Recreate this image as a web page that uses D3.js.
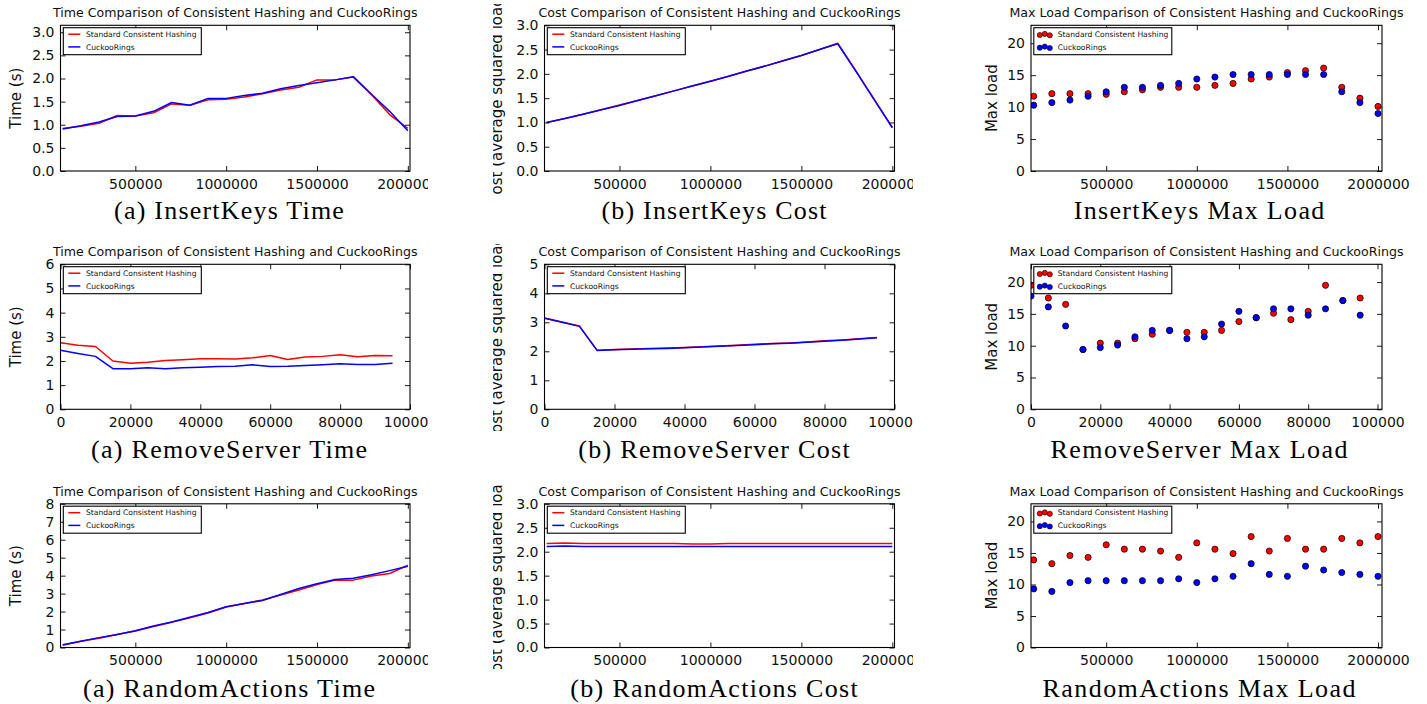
<!DOCTYPE html>
<html>
<head>
<meta charset="utf-8">
<script src="https://cdn.jsdelivr.net/npm/d3@7"></script>
<style>
  html, body { margin: 0; padding: 0; background: #ffffff; }
  svg { display: block; }
</style>
</head>
<body>
<svg id="chart" width="1427" height="704"></svg>
<script>
// ---------------- DATA ----------------
const keysX = [100000, 200000, 300000, 400000, 500000, 600000, 700000, 800000, 900000, 1000000,
               1100000, 1200000, 1300000, 1400000, 1500000, 1600000, 1700000, 1800000, 1900000, 2000000];
const serversX = [0, 5000, 10000, 15000, 20000, 25000, 30000, 35000, 40000, 45000,
                  50000, 55000, 60000, 65000, 70000, 75000, 80000, 85000, 90000, 95000];

// InsertKeys
const insertTimeCH = [0.92, 0.97, 1.03, 1.20, 1.19, 1.26, 1.45, 1.42, 1.54, 1.55, 1.60, 1.67, 1.75, 1.81, 1.97, 1.97, 2.03, 1.65, 1.22, 0.92];
const insertTimeCR = [0.91, 0.98, 1.06, 1.18, 1.19, 1.29, 1.48, 1.42, 1.57, 1.57, 1.63, 1.68, 1.78, 1.85, 1.91, 1.97, 2.04, 1.66, 1.29, 0.87];
const insertCostCH = [1.00, 1.08, 1.17, 1.26, 1.36, 1.45, 1.55, 1.65, 1.75, 1.85, 1.95, 2.06, 2.16, 2.27, 2.38, 2.50, 2.63, 2.06, 1.48, 0.90];
const insertCostCR = [1.00, 1.08, 1.17, 1.26, 1.35, 1.45, 1.55, 1.65, 1.75, 1.85, 1.95, 2.06, 2.16, 2.27, 2.38, 2.50, 2.62, 2.05, 1.47, 0.89];
const insertLoadCH = [11.7, 12.1, 12.1, 12.1, 12.0, 12.4, 12.7, 13.1, 13.1, 13.1, 13.4, 13.7, 14.4, 14.7, 15.4, 15.7, 16.1, 13.1, 11.4, 10.1];
const insertLoadCR = [10.3, 10.7, 11.1, 11.7, 12.4, 13.1, 13.1, 13.4, 13.7, 14.4, 14.7, 15.1, 15.1, 15.1, 15.1, 15.1, 15.1, 12.4, 10.7, 9.0];

// RemoveServer
const removeTimeCH = [2.75, 2.65, 2.60, 2.00, 1.91, 1.95, 2.02, 2.05, 2.09, 2.09, 2.08, 2.13, 2.23, 2.06, 2.16, 2.19, 2.26, 2.17, 2.23, 2.22];
const removeTimeCR = [2.44, 2.31, 2.19, 1.68, 1.68, 1.72, 1.68, 1.72, 1.74, 1.77, 1.78, 1.84, 1.77, 1.78, 1.81, 1.84, 1.88, 1.85, 1.85, 1.91];
const removeCostCH = [3.15, 3.01, 2.87, 2.04, 2.06, 2.08, 2.10, 2.11, 2.13, 2.16, 2.18, 2.21, 2.24, 2.27, 2.29, 2.32, 2.36, 2.39, 2.43, 2.48];
const removeCostCR = [3.14, 3.00, 2.86, 2.03, 2.05, 2.07, 2.09, 2.10, 2.12, 2.15, 2.17, 2.20, 2.23, 2.26, 2.28, 2.31, 2.35, 2.38, 2.42, 2.47];
const removeLoadCH = [19.5, 17.5, 16.5, 9.4, 10.4, 10.4, 11.1, 11.8, 12.4, 12.1, 12.1, 12.4, 13.8, 14.4, 15.1, 14.1, 15.4, 19.5, 17.1, 17.5];
const removeLoadCR = [17.8, 16.1, 13.1, 9.4, 9.7, 10.1, 11.4, 12.4, 12.4, 11.1, 11.4, 13.4, 15.4, 14.4, 15.8, 15.8, 14.8, 15.8, 17.1, 14.8];

// RandomActions
const randomTimeCH = [0.13, 0.35, 0.52, 0.72, 0.92, 1.17, 1.40, 1.65, 1.92, 2.25, 2.45, 2.65, 2.92, 3.20, 3.50, 3.75, 3.75, 3.98, 4.12, 4.58];
const randomTimeCR = [0.15, 0.35, 0.55, 0.73, 0.93, 1.20, 1.42, 1.68, 1.95, 2.27, 2.45, 2.62, 2.95, 3.28, 3.55, 3.78, 3.85, 4.05, 4.28, 4.52];
const randomCostCH = [2.17, 2.18, 2.17, 2.17, 2.17, 2.17, 2.17, 2.17, 2.16, 2.16, 2.17, 2.17, 2.17, 2.17, 2.17, 2.17, 2.17, 2.17, 2.17, 2.17];
const randomCostCR = [2.11, 2.12, 2.11, 2.11, 2.11, 2.11, 2.11, 2.11, 2.11, 2.11, 2.11, 2.11, 2.11, 2.11, 2.11, 2.11, 2.11, 2.11, 2.11, 2.11];
const randomLoadCH = [13.9, 13.3, 14.6, 14.3, 16.3, 15.6, 15.6, 15.3, 14.3, 16.6, 15.6, 14.9, 17.6, 15.3, 17.3, 15.6, 15.6, 17.3, 16.6, 17.6];
const randomLoadCR = [9.3, 8.9, 10.3, 10.6, 10.6, 10.6, 10.6, 10.6, 10.9, 10.3, 10.9, 11.3, 13.3, 11.6, 11.3, 12.9, 12.3, 11.9, 11.6, 11.3];

// Tick labels
const keysTicks = [500000, 1000000, 1500000, 2000000];
const serversTicks = [0, 20000, 40000, 60000, 80000, 100000];
const halfTicks3 = [0, 0.5, 1.0, 1.5, 2.0, 2.5, 3.0];
const unitTicks6 = [0, 1, 2, 3, 4, 5, 6];
const unitTicks5 = [0, 1, 2, 3, 4, 5];
const unitTicks8 = [0, 1, 2, 3, 4, 5, 6, 7, 8];
const loadTicks = [0, 5, 10, 15, 20];

const seriesNames = ["Standard Consistent Hashing", "CuckooRings"];
const seriesColors = ["#ff0000", "#0000ff"];

const timeTitle = "Time Comparison of Consistent Hashing and CuckooRings";
const costTitle = "Cost Comparison of Consistent Hashing and CuckooRings";
const loadTitle = "Max Load Comparison of Consistent Hashing and CuckooRings";

// ---------------- LAYOUT ----------------
const cols = [
  { l: 60.5, r: 410, clipL: 0, clipR: 428, ylx: 20.5, cap: 229 },
  { l: 544.5, r: 894.5, clipL: 493, clipR: 913, ylx: 501.5, cap: 714 },
  { l: 1031, r: 1382, clipL: 955, clipR: 1427, ylx: 997.3, cap: 1199 }
];
const rows = [
  { t: 25.3, b: 171, clipT: 4, clipB: 194, capY: 219 },
  { t: 264.3, b: 409.3, clipT: 244, clipB: 431, capY: 458 },
  { t: 503.8, b: 647.5, clipT: 484, clipB: 669, capY: 697 }
];

const keysDomLine = [88000, 2012000];
const keysDomScatter = [85000, 2022000];
const serversDomLine = [0, 100000];
const serversDomScatter = [0, 101300];

const panels = [
  { r: 0, c: 0, type: "line", x: keysX, s: [insertTimeCH, insertTimeCR], xd: keysDomLine, yd: [0, 3.15], xt: keysTicks, yt: halfTicks3, yf: ".1f", title: timeTitle, yl: "Time (s)", cap: "(a) InsertKeys Time" },
  { r: 0, c: 1, type: "line", x: keysX, s: [insertCostCH, insertCostCR], xd: keysDomLine, yd: [0, 3], xt: keysTicks, yt: halfTicks3, yf: ".1f", title: costTitle, yl: "Cost (average squared load)", cap: "(b) InsertKeys Cost" },
  { r: 0, c: 2, type: "scatter", x: keysX, s: [insertLoadCH, insertLoadCR], xd: keysDomScatter, yd: [0, 22.8], xt: keysTicks, yt: loadTicks, yf: "d", title: loadTitle, yl: "Max load", cap: "InsertKeys Max Load" },
  { r: 1, c: 0, type: "line", x: serversX, s: [removeTimeCH, removeTimeCR], xd: serversDomLine, yd: [0, 6], xt: serversTicks, yt: unitTicks6, yf: "d", title: timeTitle, yl: "Time (s)", cap: "(a) RemoveServer Time" },
  { r: 1, c: 1, type: "line", x: serversX, s: [removeCostCH, removeCostCR], xd: serversDomLine, yd: [0, 5], xt: serversTicks, yt: unitTicks5, yf: "d", title: costTitle, yl: "Cost (average squared load)", cap: "(b) RemoveServer Cost" },
  { r: 1, c: 2, type: "scatter", x: serversX, s: [removeLoadCH, removeLoadCR], xd: serversDomScatter, yd: [0, 22.8], xt: serversTicks, yt: loadTicks, yf: "d", title: loadTitle, yl: "Max load", cap: "RemoveServer Max Load" },
  { r: 2, c: 0, type: "line", x: keysX, s: [randomTimeCH, randomTimeCR], xd: keysDomLine, yd: [0, 8], xt: keysTicks, yt: unitTicks8, yf: "d", title: timeTitle, yl: "Time (s)", cap: "(a) RandomActions Time" },
  { r: 2, c: 1, type: "line", x: keysX, s: [randomCostCH, randomCostCR], xd: keysDomLine, yd: [0, 3], xt: keysTicks, yt: halfTicks3, yf: ".1f", title: costTitle, yl: "Cost (average squared load)", cap: "(b) RandomActions Cost" },
  { r: 2, c: 2, type: "scatter", x: keysX, s: [randomLoadCH, randomLoadCR], xd: keysDomScatter, yd: [0, 22.8], xt: keysTicks, yt: loadTicks, yf: "d", title: loadTitle, yl: "Max load", cap: "RandomActions Max Load" }
];

// ---------------- DRAW ----------------
const svg = d3.select("#chart");
const defs = svg.append("defs");
const SANS = "'DejaVu Sans', 'Bitstream Vera Sans', sans-serif";
const SERIF = "'Liberation Serif', 'Times New Roman', serif";
const INK = "#111";

panels.forEach((p, i) => {
  const C = cols[p.c], R = rows[p.r];

  defs.append("clipPath").attr("id", "img" + i)
    .append("rect").attr("x", C.clipL).attr("y", R.clipT)
    .attr("width", C.clipR - C.clipL).attr("height", R.clipB - R.clipT);
  defs.append("clipPath").attr("id", "plot" + i)
    .append("rect").attr("x", C.l).attr("y", R.t)
    .attr("width", C.r - C.l).attr("height", R.b - R.t);

  const g = svg.append("g").attr("clip-path", `url(#img${i})`);

  const x = d3.scaleLinear().domain(p.xd).range([C.l, C.r]);
  const y = d3.scaleLinear().domain(p.yd).range([R.b, R.t]);

  g.append("rect").attr("x", C.l).attr("y", R.t)
    .attr("width", C.r - C.l).attr("height", R.b - R.t)
    .attr("fill", "#fff");

  const dg = g.append("g").attr("clip-path", `url(#plot${i})`);
  if (p.type === "line") {
    p.s.forEach((vals, k) => {
      const pts = p.x.map((xv, j) => [xv, vals[j]]);
      dg.append("path")
        .attr("d", d3.line().x(d => x(d[0])).y(d => y(d[1]))(pts))
        .attr("fill", "none")
        .attr("stroke", seriesColors[k])
        .attr("stroke-width", 1.5)
        .attr("stroke-linejoin", "round");
    });
  } else {
    p.s.forEach((vals, k) => {
      dg.selectAll(null).data(p.x.map((xv, j) => [xv, vals[j]]))
        .enter().append("circle")
        .attr("cx", d => x(d[0])).attr("cy", d => y(d[1]))
        .attr("r", 3.1)
        .attr("fill", seriesColors[k])
        .attr("stroke", "#000").attr("stroke-width", 0.7);
    });
  }

  const xf = d3.format("d");
  const yfmt = d3.format(p.yf);
  const styleAxis = sel => {
    sel.select(".domain").remove();
    sel.selectAll(".tick line").attr("stroke", "#000").attr("stroke-width", 0.9);
    sel.selectAll(".tick text").attr("fill", INK).style("font-family", SANS).style("font-size", "14px");
  };
  g.append("g").attr("transform", `translate(0,${R.b})`)
    .call(d3.axisBottom(x).tickValues(p.xt).tickFormat(xf).tickSizeInner(-5).tickSizeOuter(0).tickPadding(8))
    .call(styleAxis);
  g.append("g").attr("transform", `translate(0,${R.t})`)
    .call(d3.axisTop(x).tickValues(p.xt).tickFormat("").tickSizeInner(-5).tickSizeOuter(0))
    .call(styleAxis);
  g.append("g").attr("transform", `translate(${C.l},0)`)
    .call(d3.axisLeft(y).tickValues(p.yt).tickFormat(yfmt).tickSizeInner(-5).tickSizeOuter(0).tickPadding(6))
    .call(styleAxis);
  g.append("g").attr("transform", `translate(${C.r},0)`)
    .call(d3.axisRight(y).tickValues(p.yt).tickFormat("").tickSizeInner(-5).tickSizeOuter(0))
    .call(styleAxis);

  g.append("rect").attr("x", C.l).attr("y", R.t)
    .attr("width", C.r - C.l).attr("height", R.b - R.t)
    .attr("fill", "none").attr("stroke", "#000").attr("stroke-width", 1.1);

  g.append("text").attr("x", (C.l + C.r) / 2).attr("y", R.t - 8)
    .attr("text-anchor", "middle").attr("fill", INK)
    .style("font-family", SANS).style("font-size", "12.6px")
    .text(p.title);

  g.append("text")
    .attr("transform", `translate(${C.ylx},${(R.t + R.b) / 2}) rotate(-90)`)
    .attr("text-anchor", "middle").attr("fill", INK)
    .style("font-family", SANS).style("font-size", "15px")
    .text(p.yl);

  const lx = C.l + 2.8, ly = R.t + 2.4, lw = 138, lh = 27;
  const lg = g.append("g");
  lg.append("rect").attr("x", lx).attr("y", ly).attr("width", lw).attr("height", lh)
    .attr("fill", "#fff").attr("stroke", "#000").attr("stroke-width", 1.1);
  seriesNames.forEach((name, k) => {
    const ry = ly + 6.5 + k * 12.7;
    if (p.type === "line") {
      lg.append("line").attr("x1", lx + 5).attr("x2", lx + 17).attr("y1", ry).attr("y2", ry)
        .attr("stroke", seriesColors[k]).attr("stroke-width", 1.5);
    } else {
      const offs = [0.8, -0.3, 1.1];
      [6, 11, 16].forEach((dx, m) => {
        lg.append("circle").attr("cx", lx + dx).attr("cy", ry + offs[m]).attr("r", 2.6)
          .attr("fill", seriesColors[k]).attr("stroke", "#000").attr("stroke-width", 0.6);
      });
    }
    lg.append("text").attr("x", lx + (p.type === "line" ? 22.7 : 24)).attr("y", ry).attr("dy", "0.35em")
      .attr("fill", INK).style("font-family", SANS).style("font-size", "7.6px")
      .text(name);
  });

  const cap = svg.append("text").attr("x", C.cap).attr("y", R.capY)
    .attr("text-anchor", "middle").attr("fill", "#000")
    .style("font-family", SERIF).style("font-size", "26px")
    .text(p.cap);
  const w = cap.node().getComputedTextLength();
  cap.attr("textLength", w * 1.105).attr("lengthAdjust", "spacing");
});
</script>
</body>
</html>
